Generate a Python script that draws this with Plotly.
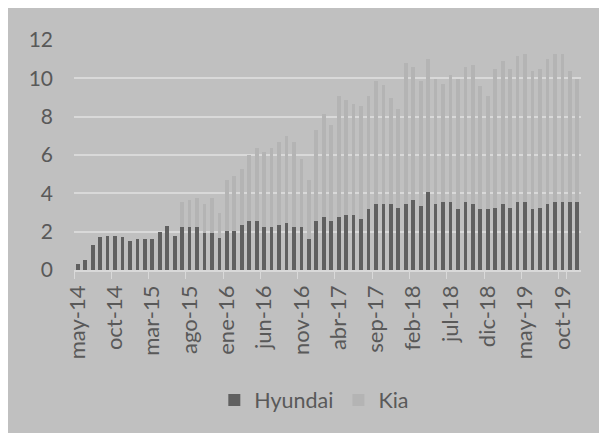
import plotly.graph_objects as go

# Monthly categories May 2014 - Dec 2019
meses = ["ene", "feb", "mar", "abr", "may", "jun", "jul", "ago", "sep", "oct", "nov", "dic"]
months = []
for yr in range(2014, 2020):
    for i, m in enumerate(meses):
        if yr == 2014 and i < 4:
            continue
        months.append(f"{m}-{str(yr)[2:]}")

hyundai = [0.3, 0.5, 1.3, 1.7, 1.8, 1.8, 1.7, 1.5, 1.6, 1.6, 1.6, 2.0,
           2.3, 1.8, 2.25, 2.25, 2.25, 1.95, 1.95, 1.65, 2.05, 2.05,
           2.35, 2.55, 2.55, 2.25, 2.25, 2.35, 2.45, 2.25, 2.25, 1.6,
           2.55, 2.75, 2.55, 2.75, 2.85, 2.85, 2.65, 3.2, 3.45, 3.45,
           3.45, 3.25, 3.45, 3.65, 3.35, 4.05, 3.45, 3.55, 3.55, 3.2,
           3.55, 3.45, 3.2, 3.2, 3.25, 3.45, 3.25, 3.55, 3.55, 3.2,
           3.25, 3.45, 3.55, 3.55, 3.55, 3.55]

total = [0.3, 0.5, 1.3, 1.7, 1.8, 1.8, 1.7, 1.5, 1.6, 1.6, 1.6, 2.0,
         2.3, 1.8, 3.57, 3.67, 3.74, 3.45, 3.74, 2.96, 4.68, 4.88,
         5.29, 5.98, 6.36, 6.17, 6.36, 6.67, 6.97, 6.66, 5.77, 4.68,
         7.28, 8.16, 7.57, 9.08, 8.89, 8.68, 8.58, 9.08, 9.88, 9.67,
         8.96, 8.39, 10.8, 10.57, 9.88, 10.99, 9.99, 9.69, 10.17, 9.99,
         10.57, 10.68, 9.58, 9.08, 10.49, 10.88, 10.49, 11.18, 11.28, 10.38,
         10.49, 10.99, 11.28, 11.28, 10.38, 9.99]

kia = [round(t - h, 2) for t, h in zip(total, hyundai)]

tick_labels = months[::5]

FONT = "Lato"
TXT = "#595959"
BG = "#c0c0c0"

fig = go.Figure()
fig.add_trace(go.Bar(x=months, y=hyundai, name="Hyundai", marker_color="#606060",
                     marker_line_width=0))
fig.add_trace(go.Bar(x=months, y=kia, name="Kia", marker_color="#b4b4b4",
                     marker_line_width=0))

fig.update_layout(
    width=607, height=433,
    barmode="stack", bargap=0.5,
    paper_bgcolor=BG, plot_bgcolor=BG,
    margin=dict(l=65.5, r=34, t=31.5, b=171, autoexpand=False),
    font=dict(family=FONT, size=20, color=TXT),
    showlegend=True,
    legend=dict(orientation="h", x=0.474, xanchor="center", y=-0.565, yanchor="middle",
                bgcolor="rgba(0,0,0,0)", font=dict(size=21.5, color=TXT),
                traceorder="normal", itemwidth=30),
)

fig.update_xaxes(
    type="category", tickmode="array", tickvals=tick_labels, ticktext=tick_labels,
    tickson="boundaries", ticks="outside", ticklen=7, tickcolor="#d9d9d9",
    showline=True, linecolor="#d9d9d9", linewidth=1.5, tickangle=-90,
    ticklabelstandoff=5,
    showgrid=False, tickfont=dict(size=22, color=TXT, family=FONT),
)
fig.update_yaxes(
    range=[0, 12], dtick=2, tick0=0, showgrid=True, gridcolor="#d9d9d9", gridwidth=1.5,
    zeroline=False, showline=False, ticks="", ticklabelstandoff=20,
    tickfont=dict(size=21, color=TXT, family=FONT),
)

fig.write_html(
    "out.html",
    post_script="document.documentElement.style.overflow='hidden';"
                "document.body.style.overflow='hidden';",
)
